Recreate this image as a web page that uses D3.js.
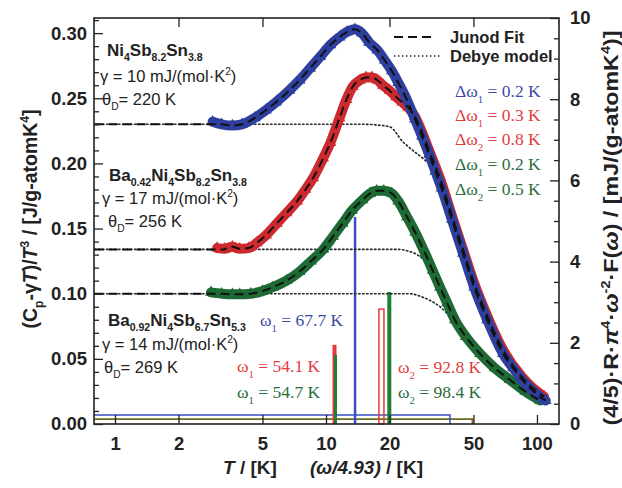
<!DOCTYPE html>
<html><head><meta charset="utf-8">
<script src="https://cdn.jsdelivr.net/npm/d3@7"></script>
<style>body{margin:0;background:#fff}svg{display:block}</style>
</head><body><svg id="c" width="622" height="488"></svg>
<script>
// ---------------- data ----------------
// (Cp - gamma T)/T^3 measured, three samples
const blueT = [2.9,3.2,3.6,4.0,4.6,5.2,5.8,6.7,7.5,8.4,9.4,10.5,11.6,12.6,13.7,14.8,16,17.5,19,20.5,22,24,26.4,28.5,30.8,33,35.3,39.5,44.6,50.4,58.1,69,77,85,95,105,110];
const blueV = [0.232,0.230,0.229,0.230,0.235,0.241,0.247,0.256,0.264,0.273,0.282,0.291,0.297,0.301,0.303,0.300,0.293,0.287,0.279,0.271,0.262,0.250,0.234,0.221,0.207,0.194,0.181,0.157,0.131,0.105,0.080,0.054,0.043,0.034,0.026,0.020,0.018];
const redT = [3.05,3.3,3.6,3.9,4.3,4.7,5.2,5.85,6.5,7.3,8.0,8.7,9.7,10.5,11.6,12.5,13.4,14.5,15.5,16.5,17.5,18.6,20,21.5,23,24.5,26.4,28.5,30.8,35.3,39.5,44.6,50.4,58.1,69,85,95,108];
const redV = [0.135,0.1345,0.136,0.1345,0.135,0.139,0.145,0.154,0.162,0.171,0.180,0.189,0.204,0.216,0.235,0.249,0.259,0.264,0.266,0.266,0.264,0.260,0.256,0.251,0.247,0.243,0.236,0.224,0.210,0.185,0.160,0.134,0.108,0.083,0.057,0.036,0.028,0.021];
const greenT = [2.85,3.2,3.6,3.9,4.4,5.0,5.6,6.5,7.5,8.5,9.7,10.8,12,13.3,14.9,16.2,17.4,18.8,20.5,22,24.2,26.5,29.5,32,34.7,37.5,40.8,46,53.7,63,74.3,88,103.5];
const greenV = [0.101,0.100,0.0995,0.0995,0.100,0.102,0.105,0.110,0.117,0.125,0.134,0.144,0.154,0.164,0.172,0.177,0.179,0.179,0.177,0.171,0.159,0.147,0.131,0.118,0.105,0.093,0.080,0.067,0.054,0.043,0.034,0.025,0.018];
// low-T plateau of the Junod fit (start of the dashed lines)
const fitStartT = 0.8;
const blueBase = 0.230, redBase = 0.134, greenBase = 0.100;
// Debye model (dotted)
const debyeBlueT = [0.8,15,17.5,20.1,23.2,25,29.4,33.6,36.6,39.6,44.6,50.4,58.1,69,85,105];
const debyeBlueV = [0.230,0.230,0.2295,0.228,0.2164,0.2118,0.2026,0.1934,0.1834,0.160,0.132,0.106,0.081,0.055,0.034,0.020];
const debyeRedT = [0.8,22,24.2,27,30,33,36,40.8,53.7,74,103];
const debyeRedV = [0.134,0.134,0.133,0.130,0.124,0.115,0.102,0.081,0.054,0.034,0.018];
const debyeGreenT = [0.8,25,28,31,34.7,39,43.1,47,51,57,74,103];
const debyeGreenV = [0.100,0.100,0.098,0.095,0.090,0.082,0.0744,0.067,0.060,0.051,0.033,0.017];
// Einstein modes: omega (K) and spectral weight (right axis)
const blueOmega = [67.7],  blueH = [5.1];
const redOmega = [54.1, 92.8], redH = [1.95, 2.83];
const greenOmega = [54.7, 98.4], greenH = [1.70, 3.25];
const omegaScale = 4.93;
// Debye part of spectrum: level (right axis) and cutoff (omega/4.93)
const blueDebyeLevel = 0.22, blueDebyeCut = 38.7;
const rgDebyeLevel = 0.12, rgDebyeCut = 49.5;
// ticks
const leftTicks = [0,0.05,0.10,0.15,0.20,0.25,0.30];
const rightTicks = [0,2,4,6,8,10];
const bottomTicks = [1,2,5,10,20,50,100];
const topTicks = [2,5,20,50];

// ---------------- layout ----------------
const L=94, R=559, TOP=18, B=424;
const svg = d3.select('#c');
svg.append('rect').attr('width',622).attr('height',488).attr('fill','#fff');
const x = d3.scaleLog().domain([0.795,127.2]).range([L,R]);
const yL = d3.scaleLinear().domain([0,0.3116]).range([B,TOP]);
const yR = d3.scaleLinear().domain([0,10]).range([B,TOP]);

const C = {blue:'#2f3f9e', red:'#cc2a2e', green:'#1e6a34',
           blueT:'#3c4ca6', redT:'#e23c40', greenT:'#2c6d3c',
           blueB:'#3b4ec4', redB:'#e83a3a', greenB:'#1f8038'};
const SANS = "'Liberation Sans', Arial, sans-serif";
const SERIF = "'Liberation Serif', 'Times New Roman', serif";

const zip = (a,b)=>a.map((v,i)=>[v,b[i]]);
const lineL = d3.line().x(d=>x(d[0])).y(d=>yL(d[1])).curve(d3.curveMonotoneX);

// ---------------- spectrum boxes & bars ----------------
const gSpec = svg.append('g');
gSpec.append('path').attr('fill','none').attr('stroke','#6b6a1e').attr('stroke-width',1.6)
  .attr('d', d3.line()([[x(0.795),yR(rgDebyeLevel)],[x(rgDebyeCut),yR(rgDebyeLevel)],[x(rgDebyeCut),B]]));
gSpec.append('line').attr('x1',x(rgDebyeCut)).attr('x2',x(rgDebyeCut)).attr('y1',yR(rgDebyeLevel)).attr('y2',B)
  .attr('stroke','#a0522d').attr('stroke-width',1.6);
gSpec.append('path').attr('fill','none').attr('stroke',C.blueB).attr('stroke-width',1.5)
  .attr('d', d3.line()([[x(0.795),yR(blueDebyeLevel)],[x(blueDebyeCut),yR(blueDebyeLevel)],[x(blueDebyeCut),B]]));

redOmega.forEach((w,i)=>{
  const cx = x(w/omegaScale);
  if(i===0){
    gSpec.append('rect').attr('x',cx-2).attr('width',4).attr('y',yR(redH[i])).attr('height',B-yR(redH[i])).attr('fill',C.redB);
  } else {
    gSpec.append('rect').attr('x',cx-5).attr('width',5).attr('y',yR(redH[i])).attr('height',B-yR(redH[i]))
      .attr('fill','none').attr('stroke',C.redB).attr('stroke-width',1.5);
  }
});
greenOmega.forEach((w,i)=>{
  const cx = x(w/omegaScale);
  const wd = i===0?3:4;
  gSpec.append('rect').attr('x',cx-wd/2).attr('width',wd).attr('y',yR(greenH[i])).attr('height',B-yR(greenH[i])).attr('fill',C.greenB);
});
blueOmega.forEach((w,i)=>{
  const cx = x(w/omegaScale);
  gSpec.append('rect').attr('x',cx-1.25).attr('width',2.5).attr('y',yR(blueH[i])).attr('height',B-yR(blueH[i])).attr('fill',C.blueB);
});

// ---------------- Debye dotted ----------------
[[debyeBlueT,debyeBlueV],[debyeRedT,debyeRedV],[debyeGreenT,debyeGreenV]].forEach(([t,v])=>{
  svg.append('path').attr('d',lineL(zip(t,v))).attr('fill','none').attr('stroke','#222')
    .attr('stroke-width',1.6).attr('stroke-dasharray','1.4,2.6').attr('stroke-linecap','round');
});

// ---------------- measured bands ----------------
const tri = d3.symbol(d3.symbolTriangle).size(60);
[[greenT,greenV,C.green],[redT,redV,C.red],[blueT,blueV,C.blue]].forEach(([t,v,col])=>{
  const pts = zip(t,v);
  svg.append('path').attr('d',lineL(pts)).attr('fill','none').attr('stroke',col)
    .attr('stroke-width',10).attr('stroke-linejoin','round').attr('stroke-linecap','round');
  svg.append('g').selectAll('path').data(pts).join('path')
    .attr('d',tri).attr('transform',d=>`translate(${x(d[0])},${yL(d[1])})`).attr('fill',col);
});

// ---------------- Junod fit dashed ----------------
[[blueT,blueV,blueBase],[redT,redV,redBase],[greenT,greenV,greenBase]].forEach(([t,v,b])=>{
  const pts = [[fitStartT,b],[t[0]+0.3,b]].concat(zip(t,v).slice(1));
  svg.append('path').attr('d',lineL(pts)).attr('fill','none').attr('stroke','#111')
    .attr('stroke-width',2).attr('stroke-dasharray','9,5');
});

// ---------------- axes ----------------
function styleAxis(g){ g.select('.domain').remove(); g.selectAll('line').attr('stroke','#222').attr('stroke-width',1.3);
  g.selectAll('text').attr('font-family',SANS).attr('font-weight','bold').attr('font-size',18.5).attr('fill','#222'); }
const minorL = d3.range(0,0.3101,0.01).filter(v=>Math.abs(v*20-Math.round(v*20))>1e-6);
svg.append('g').attr('transform',`translate(${L},0)`)
  .call(d3.axisLeft(yL).tickValues(minorL).tickSize(-5).tickFormat('')).call(styleAxis);
svg.append('g').attr('transform',`translate(${L},0)`)
  .call(d3.axisLeft(yL).tickValues(leftTicks).tickSize(-9).tickPadding(7).tickFormat(d3.format('.2f'))).call(styleAxis);
const minorR = d3.range(0,10.01,0.5).filter(v=>v%2!==0);
svg.append('g').attr('transform',`translate(${R},0)`)
  .call(d3.axisRight(yR).tickValues(minorR).tickSize(-5).tickFormat('')).call(styleAxis);
svg.append('g').attr('transform',`translate(${R},0)`)
  .call(d3.axisRight(yR).tickValues(rightTicks).tickSize(-9).tickPadding(11).tickFormat(d3.format('d'))).call(styleAxis);
svg.append('g').attr('transform',`translate(0,${B})`)
  .call(d3.axisBottom(x).tickValues(bottomTicks).tickSize(-9).tickPadding(13).tickFormat(d3.format('d'))).call(styleAxis);
svg.append('g').attr('transform',`translate(0,${TOP})`)
  .call(d3.axisTop(x).tickValues(topTicks).tickSize(-9).tickFormat('')).call(styleAxis);
svg.append('rect').attr('x',L).attr('y',TOP).attr('width',R-L).attr('height',B-TOP)
  .attr('fill','none').attr('stroke','#222').attr('stroke-width',1.6);

// ---------------- rich text helper ----------------
function rich(sel, xx, yy, parts, st){
  const t = sel.append('text').attr('x',xx).attr('y',yy);
  Object.entries(st).forEach(([k,v])=>t.attr(k,v));
  const fs = st['font-size'];
  let cur = 0;
  parts.forEach(p=>{
    const [s,type] = Array.isArray(p)?p:[p,''];
    const target = type.includes('sub')? fs*0.32 : type.includes('sup')? -fs*0.42 : 0;
    const ts = t.append('tspan').text(s).attr('dy',(target-cur).toFixed(2));
    cur = target;
    if(type.includes('sub')||type.includes('sup')) ts.attr('font-size',fs*0.62);
    if(type.includes('i')) ts.attr('font-style','italic');
  });
  return t;
}
const bold17 = {'font-family':SANS,'font-weight':'bold','font-size':17,'fill':'#222'};
const norm16 = {'font-family':SANS,'font-size':16.5,'fill':'#222'};

rich(svg,107,56,['Ni',['4','sub'],'Sb',['8.2','sub'],'Sn',['3.8','sub']],bold17);
rich(svg,100,82,['γ = 10 mJ/(mol·K',['2','sup'],')'],norm16);
rich(svg,102,105,['θ',['D','sub'],'= 220 K'],norm16);
rich(svg,109,181,['Ba',['0.42','sub'],'Ni',['4','sub'],'Sb',['8.2','sub'],'Sn',['3.8','sub']],bold17);
rich(svg,102,204,['γ = 17 mJ/(mol·K',['2','sup'],')'],norm16);
rich(svg,108,227,['θ',['D','sub'],'= 256 K'],norm16);
rich(svg,108,326,['Ba',['0.92','sub'],'Ni',['4','sub'],'Sb',['6.7','sub'],'Sn',['5.3','sub']],bold17);
rich(svg,102,350,['γ = 14 mJ/(mol·K',['2','sup'],')'],norm16);
rich(svg,104,373,['θ',['D','sub'],'= 269 K'],norm16);

const ser = col=>({'font-family':SERIF,'font-size':17.5,'fill':col});
rich(svg,455,97,['Δω',['1','sub'],' = 0.2 K'],ser(C.blueT));
rich(svg,455,121,['Δω',['1','sub'],' = 0.3 K'],ser(C.redT));
rich(svg,455,145,['Δω',['2','sub'],' = 0.8 K'],ser(C.redT));
rich(svg,455,170,['Δω',['1','sub'],' = 0.2 K'],ser(C.greenT));
rich(svg,455,195,['Δω',['2','sub'],' = 0.5 K'],ser(C.greenT));
rich(svg,260,326,['ω',['1','sub'],' = 67.7 K'],ser(C.blueT));
rich(svg,237,372,['ω',['1','sub'],' = 54.1 K'],ser(C.redT));
rich(svg,237,398,['ω',['1','sub'],' = 54.7 K'],ser(C.greenT));
rich(svg,398,373,['ω',['2','sub'],' = 92.8 K'],ser(C.redT));
rich(svg,398,398,['ω',['2','sub'],' = 98.4 K'],ser(C.greenT));

svg.append('line').attr('x1',394).attr('x2',433).attr('y1',37).attr('y2',37)
  .attr('stroke','#111').attr('stroke-width',2).attr('stroke-dasharray','9,5');
svg.append('line').attr('x1',394).attr('x2',440).attr('y1',56).attr('y2',56)
  .attr('stroke','#222').attr('stroke-width',1.6).attr('stroke-dasharray','1.4,2.6');
svg.append('text').attr('x',450).attr('y',43).text('Junod Fit').attr('font-family',SANS).attr('font-weight','bold').attr('font-size',16.5).attr('fill','#222');
svg.append('text').attr('x',450).attr('y',62).text('Debye model').attr('font-family',SANS).attr('font-weight','bold').attr('font-size',16.5).attr('fill','#222');

const tstyle = {'font-family':SANS,'font-weight':'bold','font-size':19.5,'fill':'#222','text-anchor':'middle'};
const lt = svg.append('g').attr('transform','translate(37,219) rotate(-90)');
rich(lt,0,0,['(C',['p','sub'],'-γ',['T','i'],')/',['T','i'],['3','sup'],' / [J/g-atomK',['4','sup'],']'],tstyle);
const rt = svg.append('g').attr('transform','translate(618,228) rotate(-90)');
rich(rt,0,0,['(4/5)·R·',['π','i'],['4','sup'],'·',['ω','i'],['-2','sup'],'·F(',['ω','i'],') / [mJ/(g-atomK',['4','sup'],')]'],tstyle)
  .attr('textLength',395).attr('lengthAdjust','spacingAndGlyphs');
const bstyle = {'font-family':SANS,'font-weight':'bold','font-size':19,'fill':'#222'};
rich(svg,223,474,[['T','i'],' / [K]'],bstyle);
rich(svg,310,474,[['(ω/4.93)','i'],' / [K]'],bstyle);
</script></body></html>
